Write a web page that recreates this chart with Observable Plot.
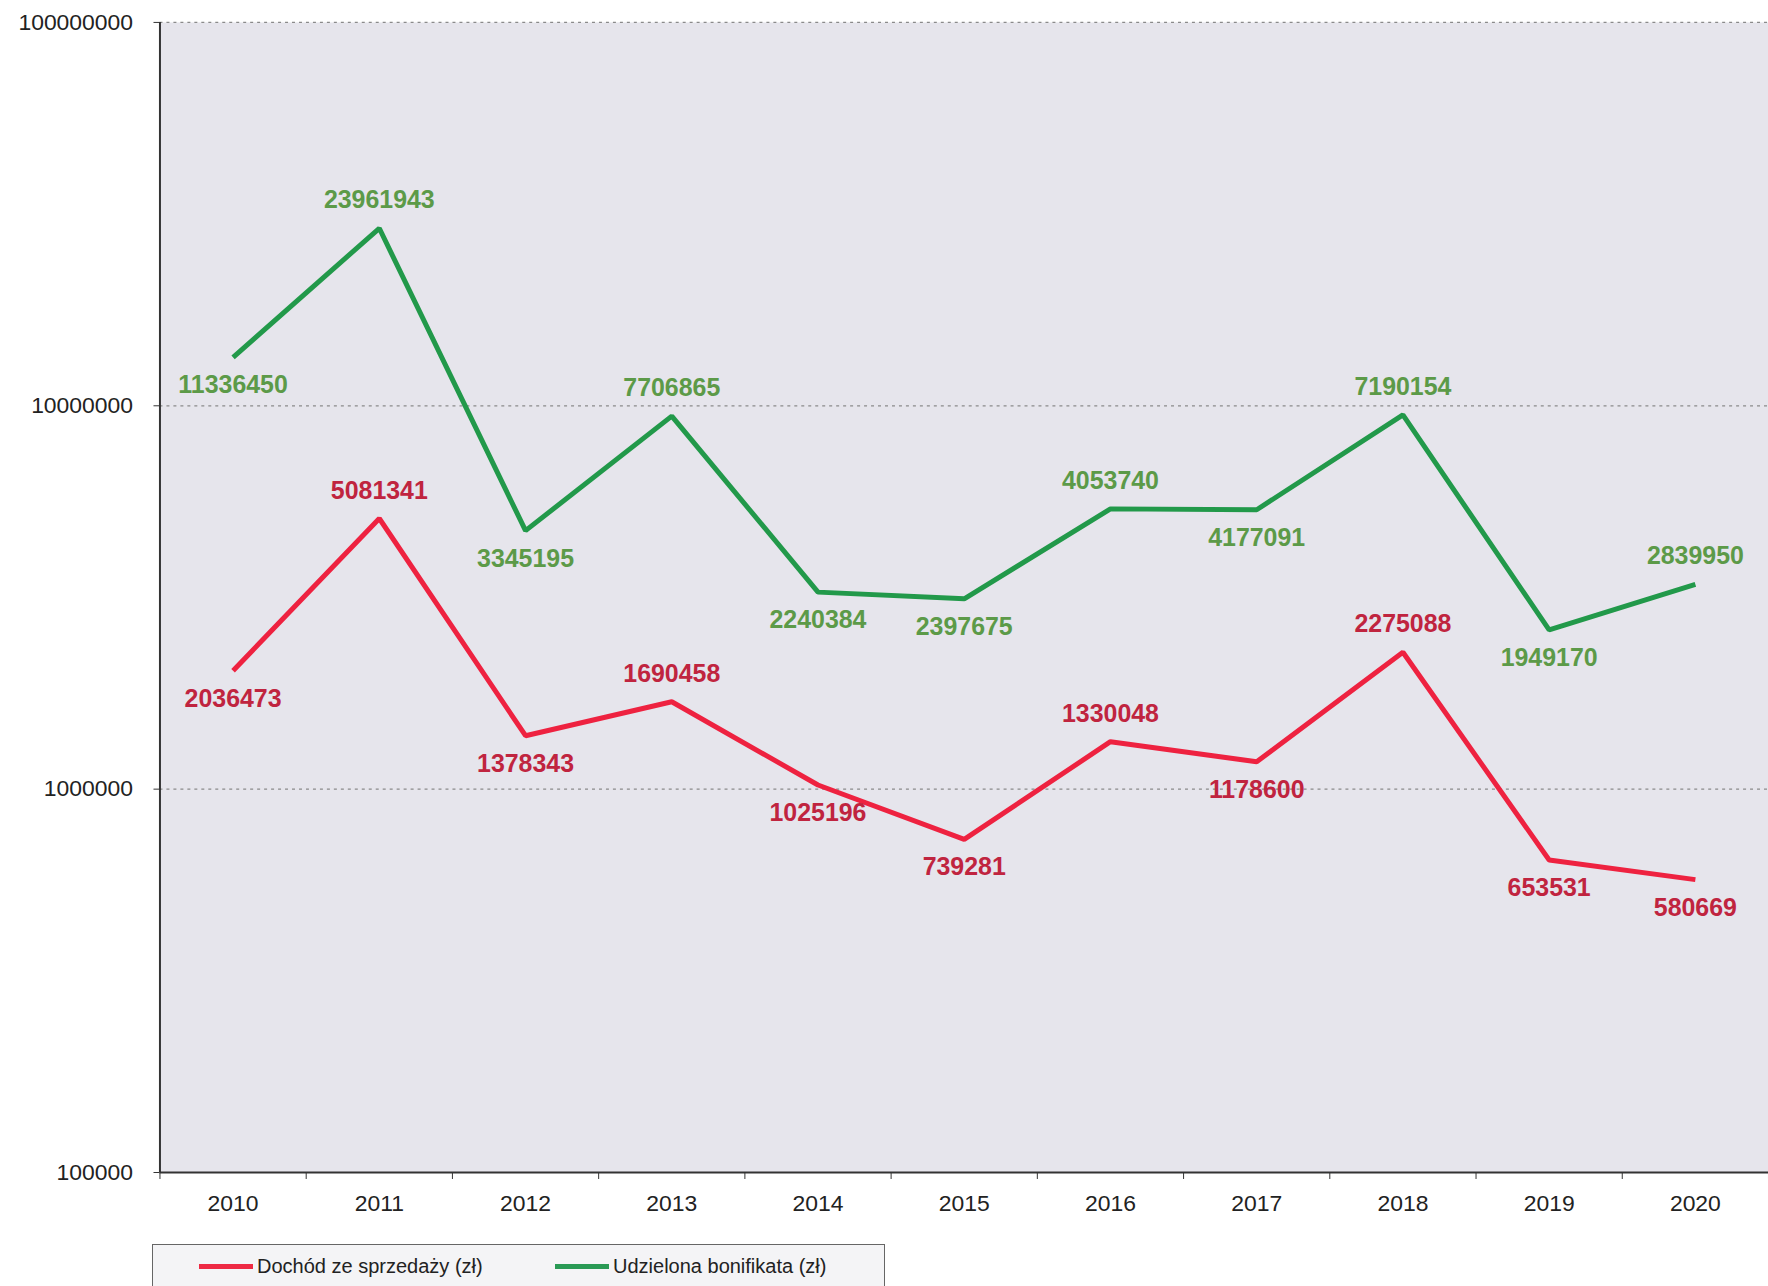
<!DOCTYPE html>
<html>
<head>
<meta charset="utf-8">
<script src="https://cdn.jsdelivr.net/npm/d3@7"></script>
<script src="https://cdn.jsdelivr.net/npm/@observablehq/plot@0.6"></script>
<style>
  html, body { margin: 0; padding: 0; background: #fff; overflow: hidden; width: 1768px; height: 1286px; }
  #chart { position: absolute; left: 0; top: 0; }
  #legend {
    position: absolute; left: 152px; top: 1244px; width: 733px; height: 60px;
    border: 1.5px solid #666; background: #f4f4f6; box-sizing: border-box;
    font-family: "Liberation Sans", Arial, sans-serif; font-size: 20px; color: #222;
  }
  .item { position: absolute; top: 10px; display: flex; align-items: center; }
  .swatch { width: 54px; height: 5px; margin-right: 4px; }
</style>
</head>
<body>
<div id="chart"></div>
<div id="legend">
  <div class="item" style="left:46px"><span class="swatch" style="background:#ee2a44"></span><span id="l0"></span></div>
  <div class="item" style="left:402px"><span class="swatch" style="background:#2a9a55"></span><span id="l1"></span></div>
</div>
<script>
const years = [2010, 2011, 2012, 2013, 2014, 2015, 2016, 2017, 2018, 2019, 2020];
const dochod = [2036473, 5081341, 1378343, 1690458, 1025196, 739281, 1330048, 1178600, 2275088, 653531, 580669];
const bonifikata = [11336450, 23961943, 3345195, 7706865, 2240384, 2397675, 4053740, 4177091, 7190154, 1949170, 2839950];
const seriesNames = ["Dochód ze sprzedaży (zł)", "Udzielona bonifikata (zł)"];
const yTicks = [100000, 1000000, 10000000, 100000000];

document.getElementById("l0").textContent = seriesNames[0];
document.getElementById("l1").textContent = seriesNames[1];

// Stacked line chart: the second series is drawn on top of the first
const rows = [];
years.forEach((yr, i) => {
  rows.push({year: yr, series: seriesNames[0], value: dochod[i], top: dochod[i]});
  rows.push({year: yr, series: seriesNames[1], value: bonifikata[i], top: dochod[i] + bonifikata[i]});
});
// label placement: above when point is higher than its neighbours' (log) mean
for (const s of seriesNames) {
  const r = rows.filter(d => d.series === s);
  r.forEach((d, i) => {
    const nb = [r[i - 1], r[i + 1]].filter(Boolean).map(n => Math.log(n.top));
    d.above = Math.log(d.top) >= d3.mean(nb);
  });
}
const boundaries = years.map(y => y - 0.5).concat([years[years.length - 1] + 0.5]);
const lineColor = {[seriesNames[0]]: "#ee2240", [seriesNames[1]]: "#22994a"};
const labelColor = {[seriesNames[0]]: "#c0243f", [seriesNames[1]]: "#5c9a48"};

const plot = Plot.plot({
  width: 1774,
  height: 1240,
  marginLeft: 160,
  marginRight: 0,
  marginTop: 22,
  marginBottom: 64,
  style: {fontFamily: "'Liberation Sans', Arial, sans-serif", background: "transparent"},
  x: {domain: [boundaries[0], boundaries[boundaries.length - 1]], axis: null},
  y: {type: "log", domain: [1e5, 1e8], axis: null},
  marks: [
    Plot.frame({fill: "#e6e5ec", stroke: null}),
    Plot.ruleY(yTicks.slice(1), {stroke: "#8a8a8a", strokeDasharray: "3,4", strokeWidth: 1.2}),
    Plot.ruleY([yTicks[0]], {stroke: "#333", strokeWidth: 2}),
    Plot.ruleX([boundaries[0]], {stroke: "#333", strokeWidth: 2}),
    Plot.axisY(yTicks, {label: null, tickSize: 6, tickPadding: 21, fontSize: 23, tickFormat: d3.format("d"), color: "#222", stroke: "#333"}),
    Plot.axisX(boundaries, {label: null, tickSize: 7, tickFormat: () => "", stroke: "#333"}),
    Plot.axisX(years, {label: null, tickSize: 0, tickPadding: 22, fontSize: 23, tickFormat: d => String(d), color: "#222"}),
    Plot.line(rows, {x: "year", y: "top", z: "series", stroke: d => lineColor[d.series], strokeWidth: 5, strokeLinejoin: "miter", strokeLinecap: "butt"}),
    Plot.text(rows, {filter: d => d.above, x: "year", y: "top", text: d => String(d.value), dy: -28, fill: d => labelColor[d.series], fontSize: 25, fontWeight: "bold"}),
    Plot.text(rows, {filter: d => !d.above, x: "year", y: "top", text: d => String(d.value), dy: 28, fill: d => labelColor[d.series], fontSize: 25, fontWeight: "bold"})
  ]
});
document.getElementById("chart").appendChild(plot);
</script>
</body>
</html>
